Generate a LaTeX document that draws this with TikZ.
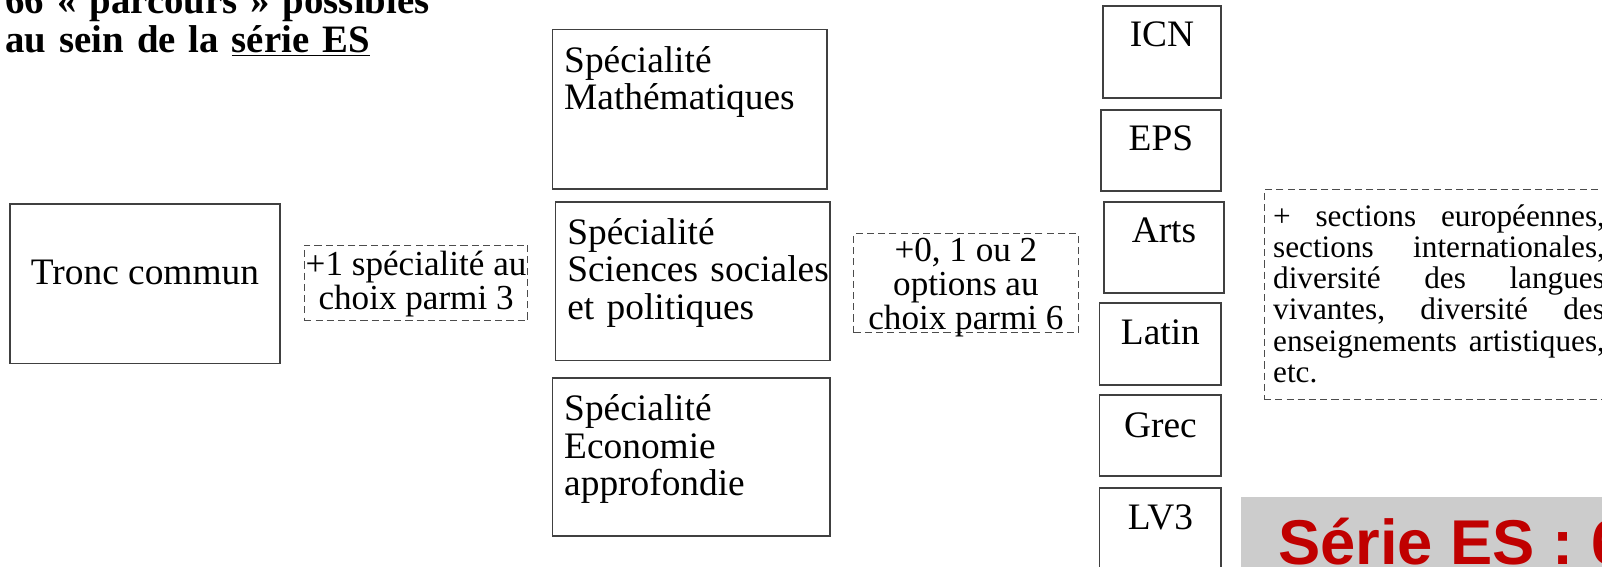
\documentclass[tikz,border=0pt]{standalone}
\usepackage{fontspec}
\setmainfont{Liberation Serif}
\newfontfamily\bannerfont{Liberation Sans}
\usetikzlibrary{calc,fit,positioning}
\definecolor{bannergray}{HTML}{CCCCCC}
\definecolor{bannerred}{HTML}{C00000}
\newcommand{\titlefont}{\fontsize{19pt}{19pt}\selectfont\bfseries}
\newcommand{\boxfont}{\fontsize{18.3pt}{18.2pt}\selectfont}
\newcommand{\notefont}{\fontsize{17.2pt}{16.5pt}\selectfont}
\newcommand{\extrafont}{\fontsize{15.3pt}{15.3pt}\selectfont}
\newcommand{\spread}[1]{\makebox[162.5pt][s]{#1}}
\lineskiplimit=-\maxdimen

\begin{document}
\begin{tikzpicture}
[
x=0.5pt, y=-0.5pt,
block/.style     = {draw=black!75, line width=0.8pt, inner sep=0pt},
choicebox/.style = {draw=black!70, line width=0.5pt, dash pattern=on 3.5pt off 2pt, inner sep=0pt},
boxtext/.style   = {inner sep=0pt, anchor=base west, text width=140pt, align=left, font=\boxfont},
opttext/.style   = {inner sep=0pt, anchor=base, font=\boxfont},
notetext/.style  = {inner sep=0pt, align=center, font=\notefont},
]
\useasboundingbox (0,0) rectangle (1569,555.3);
\clip (0,0) rectangle (1569,555.3);

\node[inner sep=0pt, anchor=base west, text width=300pt, align=left, font=\titlefont] (title) at (5,13)
  {66 « parcours » possibles\\au sein de la \underline{série ES}};

\node[block, fit={(10,200) (274,356)}] (tronc) {};
\node[opttext] (tronclabel) at ($(tronc.north)+(0,79)$) {Tronc commun};

\node[choicebox, fit={(298,240) (517,314)}] (pick) {};
\node[notetext] (picklabel) at ($(pick.center)+(0,1)$) {+1 spécialité au\\choix parmi 3};

\node[block, fit={(541,29) (810,185)}] (maths) {};
\node[boxtext] (mathslabel) at ($(maths.north west)+(12,43)$) {Spécialité\\Mathématiques};
\node[block, fit={(544,198) (813,353)}] (ses) {};
\node[boxtext] (seslabel) at ($(ses.north west)+(12,42.5)$) {Spécialité\\Sciences sociales\\et politiques};
\node[block, fit={(541,370) (813,525)}] (eco) {};
\node[boxtext] (ecolabel) at ($(eco.north west)+(12,43)$) {Spécialité\\Economie\\approfondie};

\node[choicebox, fit={(836,229) (1056,326)}] (options) {};
\node[notetext] (optionslabel) at ($(options.center)+(0,4)$) {+0, 1 ou 2\\options au\\choix parmi 6};

\node[block, fit={(1080,6) (1196,96)}] (icn) {};
\node[opttext] (icnlabel) at ($(icn.north)+(0,40)$) {ICN};
\node[block, fit={(1078,108) (1196,187)}] (eps) {};
\node[opttext] (epslabel) at ($(eps.north)+(0,40)$) {EPS};
\node[block, fit={(1081,198) (1199,287)}] (arts) {};
\node[opttext] (artslabel) at ($(arts.north)+(0,40)$) {Arts};
\node[block, fit={(1077,297) (1196,377)}] (latin) {};
\node[opttext] (latinlabel) at ($(latin.north)+(0,41)$) {Latin};
\node[block, fit={(1077,387) (1196,466)}] (grec) {};
\node[opttext] (greclabel) at ($(grec.north)+(0,42)$) {Grec};
\node[block, fit={(1077,478) (1196,620)}] (lv) {};
\node[opttext] (lvlabel) at ($(lv.north)+(0,41)$) {LV3};

\node[choicebox, fit={(1238,186) (1640,391)}] (extra) {};
\node[inner sep=0pt, anchor=base west, text width=180pt, align=left, font=\extrafont] (extralabel)
  at ($(extra.north west)+(9,36)$)
  {\spread{+\hfill sections\hfill européennes,}\\\spread{sections\hfill internationales,}\\
   \spread{diversité\hfill des\hfill langues}\\\spread{vivantes,\hfill diversité\hfill des}\\
   \spread{enseignements\hfill artistiques,}\\etc.};

\node[fill=bannergray, inner sep=0pt, fit={(1215,487) (1640,620)}] (banner) {};
\node[inner sep=0pt, anchor=base west, text=bannerred, font=\bannerfont\bfseries\fontsize{31pt}{31pt}\selectfont] (bannerlabel)
  at ($(banner.north west)+(37,66)$) {Série ES : 6};
\end{tikzpicture}
\end{document}
